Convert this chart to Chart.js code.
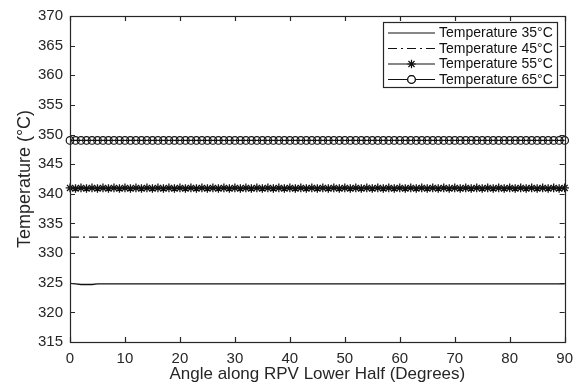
<!DOCTYPE html>
<html>
<head>
<meta charset="utf-8">
<script src="https://cdn.jsdelivr.net/npm/chart.js@4/dist/chart.umd.min.js"></script>
<style>
  html, body { margin: 0; padding: 0; background: #fff; }
</style>
</head>
<body>
<canvas id="myChart" width="581" height="385"></canvas>
<script>
// angle along the lower half, one point per degree
const angles = [
  0, 1, 2, 3, 4, 5, 6, 7, 8, 9,
  10, 11, 12, 13, 14, 15, 16, 17, 18, 19,
  20, 21, 22, 23, 24, 25, 26, 27, 28, 29,
  30, 31, 32, 33, 34, 35, 36, 37, 38, 39,
  40, 41, 42, 43, 44, 45, 46, 47, 48, 49,
  50, 51, 52, 53, 54, 55, 56, 57, 58, 59,
  60, 61, 62, 63, 64, 65, 66, 67, 68, 69,
  70, 71, 72, 73, 74, 75, 76, 77, 78, 79,
  80, 81, 82, 83, 84, 85, 86, 87, 88, 89,
  90
];

const temp35 = [
  324.9, 324.8, 324.7, 324.7, 324.7, 324.8, 324.8, 324.8, 324.8, 324.8,
  324.8, 324.8, 324.8, 324.8, 324.8, 324.8, 324.8, 324.8, 324.8, 324.8,
  324.8, 324.8, 324.8, 324.8, 324.8, 324.8, 324.8, 324.8, 324.8, 324.8,
  324.8, 324.8, 324.8, 324.8, 324.8, 324.8, 324.8, 324.8, 324.8, 324.8,
  324.8, 324.8, 324.8, 324.8, 324.8, 324.8, 324.8, 324.8, 324.8, 324.8,
  324.8, 324.8, 324.8, 324.8, 324.8, 324.8, 324.8, 324.8, 324.8, 324.8,
  324.8, 324.8, 324.8, 324.8, 324.8, 324.8, 324.8, 324.8, 324.8, 324.8,
  324.8, 324.8, 324.8, 324.8, 324.8, 324.8, 324.8, 324.8, 324.8, 324.8,
  324.8, 324.8, 324.8, 324.8, 324.8, 324.8, 324.8, 324.8, 324.8, 324.8,
  324.8
];

const temp45 = [
  332.7, 332.7, 332.7, 332.7, 332.7, 332.7, 332.7, 332.7, 332.7, 332.7,
  332.7, 332.7, 332.7, 332.7, 332.7, 332.7, 332.7, 332.7, 332.7, 332.7,
  332.7, 332.7, 332.7, 332.7, 332.7, 332.7, 332.7, 332.7, 332.7, 332.7,
  332.7, 332.7, 332.7, 332.7, 332.7, 332.7, 332.7, 332.7, 332.7, 332.7,
  332.7, 332.7, 332.7, 332.7, 332.7, 332.7, 332.7, 332.7, 332.7, 332.7,
  332.7, 332.7, 332.7, 332.7, 332.7, 332.7, 332.7, 332.7, 332.7, 332.7,
  332.7, 332.7, 332.7, 332.7, 332.7, 332.7, 332.7, 332.7, 332.7, 332.7,
  332.7, 332.7, 332.7, 332.7, 332.7, 332.7, 332.7, 332.7, 332.7, 332.7,
  332.7, 332.7, 332.7, 332.7, 332.7, 332.7, 332.7, 332.7, 332.7, 332.7,
  332.7
];

const temp55 = [
  341.0, 340.9, 341.0, 340.9, 341.0, 340.9, 341.0, 340.9, 341.0, 340.9,
  341.0, 340.9, 341.0, 340.9, 341.0, 340.9, 341.0, 340.9, 341.0, 340.9,
  341.0, 340.9, 341.0, 340.9, 341.0, 340.9, 341.0, 340.9, 341.0, 340.9,
  341.0, 340.9, 341.0, 340.9, 341.0, 340.9, 341.0, 340.9, 341.0, 340.9,
  341.0, 340.9, 341.0, 340.9, 341.0, 340.9, 341.0, 340.9, 341.0, 340.9,
  341.0, 340.9, 341.0, 340.9, 341.0, 340.9, 341.0, 340.9, 341.0, 340.9,
  341.0, 340.9, 341.0, 340.9, 341.0, 340.9, 341.0, 340.9, 341.0, 340.9,
  341.0, 340.9, 341.0, 340.9, 341.0, 340.9, 341.0, 340.9, 341.0, 340.9,
  341.0, 340.9, 341.0, 340.9, 341.0, 340.9, 341.0, 340.9, 341.0, 340.9,
  341.0
];

const temp65 = [
  349.0, 349.0, 349.0, 349.0, 349.0, 349.0, 349.0, 349.0, 349.0, 349.0,
  349.0, 349.0, 349.0, 349.0, 349.0, 349.0, 349.0, 349.0, 349.0, 349.0,
  349.0, 349.0, 349.0, 349.0, 349.0, 349.0, 349.0, 349.0, 349.0, 349.0,
  349.0, 349.0, 349.0, 349.0, 349.0, 349.0, 349.0, 349.0, 349.0, 349.0,
  349.0, 349.0, 349.0, 349.0, 349.0, 349.0, 349.0, 349.0, 349.0, 349.0,
  349.0, 349.0, 349.0, 349.0, 349.0, 349.0, 349.0, 349.0, 349.0, 349.0,
  349.0, 349.0, 349.0, 349.0, 349.0, 349.0, 349.0, 349.0, 349.0, 349.0,
  349.0, 349.0, 349.0, 349.0, 349.0, 349.0, 349.0, 349.0, 349.0, 349.0,
  349.0, 349.0, 349.0, 349.0, 349.0, 349.0, 349.0, 349.0, 349.0, 349.0,
  349.0
];

const seriesNames = ['Temperature 35°C', 'Temperature 45°C', 'Temperature 55°C', 'Temperature 65°C'];
const xTicks = [0, 10, 20, 30, 40, 50, 60, 70, 80, 90];
const yTicks = [315, 320, 325, 330, 335, 340, 345, 350, 355, 360, 365, 370];

const ink = '#111';
const toPoints = vals => angles.map((a, i) => ({ x: a, y: vals[i] }));

// MATLAB style box, inward ticks and legend
const matlabFrame = {
  id: 'matlabFrame',
  afterDatasetsDraw(chart) {
    const ctx = chart.ctx;
    const a = chart.chartArea;
    const xs = chart.scales.x, ys = chart.scales.y;
    ctx.save();
    ctx.strokeStyle = '#262626';
    ctx.lineWidth = 1.2;
    ctx.strokeRect(Math.round(a.left) + 0.5, Math.round(a.top) + 0.5,
      Math.round(a.right - a.left), Math.round(a.bottom - a.top));
    ctx.beginPath();
    xTicks.forEach(v => {
      const px = Math.round(xs.getPixelForValue(v)) + 0.5;
      ctx.moveTo(px, a.bottom); ctx.lineTo(px, a.bottom - 5);
      ctx.moveTo(px, a.top); ctx.lineTo(px, a.top + 5);
    });
    yTicks.forEach(v => {
      const py = Math.round(ys.getPixelForValue(v)) + 0.5;
      ctx.moveTo(a.left, py); ctx.lineTo(a.left + 5, py);
      ctx.moveTo(a.right, py); ctx.lineTo(a.right - 5, py);
    });
    ctx.stroke();

    // legend
    const lx = 383.5, ly = 22.5, lw = 174, lh = 65;
    ctx.fillStyle = '#fff';
    ctx.fillRect(lx, ly, lw, lh);
    ctx.strokeStyle = '#262626';
    ctx.lineWidth = 1.2;
    ctx.strokeRect(lx, ly, lw, lh);
    ctx.font = '14px "Liberation Sans", Arial, sans-serif';
    ctx.textBaseline = 'middle';
    chart.data.datasets.forEach((ds, i) => {
      const y = 33 + i * 15.5;
      ctx.strokeStyle = ink;
      ctx.lineWidth = 1.2;
      ctx.setLineDash(ds.borderDash || []);
      ctx.beginPath();
      ctx.moveTo(388, y); ctx.lineTo(435, y);
      ctx.stroke();
      ctx.setLineDash([]);
      if (ds.pointRadius > 0) {
        Chart.helpers.drawPoint(ctx, {
          pointStyle: ds.pointStyle, radius: ds.pointRadius, borderWidth: 1.2
        }, 411.5, y);
        if (ds.pointStyle === 'circle') {
          ctx.fillStyle = '#fff';
          ctx.beginPath(); ctx.arc(411.5, y, ds.pointRadius, 0, Math.PI * 2);
          ctx.fill(); ctx.stroke();
        }
      }
      ctx.fillStyle = '#111';
      ctx.fillText(ds.label, 439, y + 0.5);
    });
    ctx.restore();
  }
};

const mydata = {
  datasets: [
    {
      label: seriesNames[0],
      data: toPoints(temp35),
      borderColor: ink,
      borderWidth: 1.3,
      pointRadius: 0
    },
    {
      label: seriesNames[1],
      data: toPoints(temp45),
      borderColor: ink,
      borderWidth: 1.3,
      borderDash: [9, 4, 2, 4],
      pointRadius: 0
    },
    {
      label: seriesNames[2],
      data: toPoints(temp55),
      borderColor: ink,
      borderWidth: 1.3,
      pointStyle: 'star',
      pointRadius: 4.3,
      pointBorderColor: ink,
      pointBorderWidth: 1.3
    },
    {
      label: seriesNames[3],
      data: toPoints(temp65),
      borderColor: ink,
      borderWidth: 1.3,
      pointStyle: 'circle',
      pointRadius: 3.8,
      pointBackgroundColor: 'rgba(255,255,255,0)',
      pointBorderColor: ink,
      pointBorderWidth: 1.2
    }
  ]
};

const tickFont = { family: '"Liberation Sans", Arial, sans-serif', size: 15 };
const titleFont = { family: '"Liberation Sans", Arial, sans-serif', size: 17 };

const myconfig = {
  type: 'line',
  data: mydata,
  options: {
    responsive: false,
    animation: false,
    devicePixelRatio: 1,
    clip: false,
    layout: { padding: { left: 0, right: 13, top: 12, bottom: 0 } },
    plugins: {
      legend: { display: false },
      tooltip: { enabled: false }
    },
    scales: {
      x: {
        type: 'linear',
        min: 0,
        max: 90,
        afterBuildTicks: s => { s.ticks = xTicks.map(v => ({ value: v })); },
        afterFit: s => { s.height = 43; },
        grid: { display: false, drawTicks: false },
        border: { display: false },
        ticks: { font: tickFont, color: '#262626', padding: 8, maxRotation: 0 },
        title: {
          display: true,
          text: 'Angle along RPV Lower Half (Degrees)',
          font: titleFont,
          color: '#262626',
          padding: { top: 0, bottom: 0 }
        }
      },
      y: {
        min: 315,
        max: 370,
        afterBuildTicks: s => { s.ticks = yTicks.map(v => ({ value: v })); },
        afterFit: s => { s.width = 70; },
        grid: { display: false, drawTicks: false },
        border: { display: false },
        ticks: { font: tickFont, color: '#262626', padding: 7 },
        title: {
          display: true,
          text: 'Temperature (°C)',
          font: { family: '"Liberation Sans", Arial, sans-serif', size: 18 },
          color: '#262626',
          padding: { top: 14, bottom: 0 }
        }
      }
    }
  },
  plugins: [matlabFrame]
};

const myChart = new Chart(document.getElementById('myChart'), myconfig);
</script>
</body>
</html>
